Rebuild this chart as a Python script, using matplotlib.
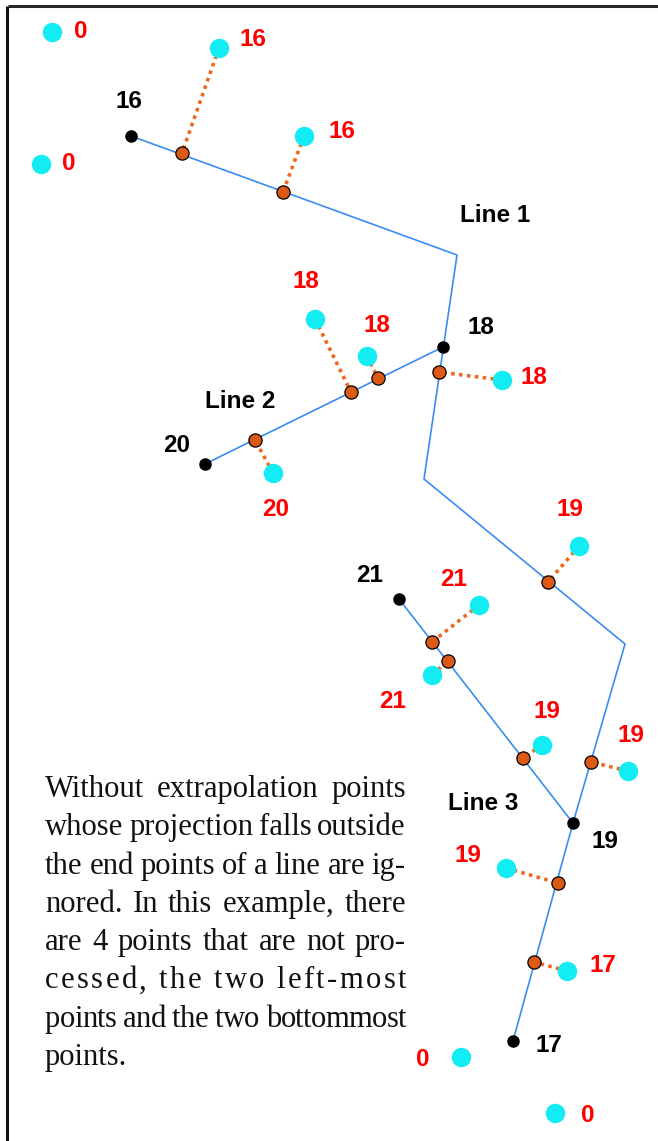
import matplotlib.pyplot as plt
import numpy as np

# polylines (pixel coords, y grows downwards)
line1_x = [131, 457, 424, 625, 573, 513]
line1_y = [136, 255, 479, 644, 823, 1041]
line2_x = [205, 443]
line2_y = [464, 347]
line3_x = [399, 573]
line3_y = [599, 823]

# end points of the lines (black) and their values
node_x = [131, 443, 205, 399, 573, 513]
node_y = [136, 347, 464, 599, 823, 1041]
node_val = ['16', '18', '20', '21', '19', '17']
node_lab_x = [129, 481, 177, 370, 605, 549]
node_lab_y = [102, 327, 445, 576, 841, 1046]

# sample points (cyan), value and projection on the line (nan = not processed)
pt_x = [52, 41, 219, 304, 315, 367, 502, 273, 579, 479, 432, 542, 628, 506, 567, 461, 555]
pt_y = [32, 164, 48, 136, 319, 356, 380, 473, 546, 605, 675, 745, 771, 868, 971, 1057, 1113]
pt_val = ['0', '0', '16', '16', '18', '18', '18', '20', '19', '21', '21', '19', '19', '19', '17', '0', '0']
proj_x = [np.nan, np.nan, 182, 283, 351, 378, 439, 255, 548, 432, 448, 523, 591, 558, 534, np.nan, np.nan]
proj_y = [np.nan, np.nan, 153, 192, 392, 378, 372, 440, 582, 642, 661, 758, 762, 883, 962, np.nan, np.nan]
pt_lab_x = [81, 69, 253, 342, 306, 377, 534, 276, 570, 454, 393, 547, 631, 468, 603, 423, 588]
pt_lab_y = [31, 163, 40, 131, 282, 326, 377, 510, 510, 579, 702, 711, 736, 855, 965, 1059, 1115]

line_names = ['Line 1', 'Line 2', 'Line 3']
line_lab_x = [495, 240, 483]
line_lab_y = [216, 402, 803]

note = ['Without extrapolation points',
        'whose projection falls outside',
        'the end points of a line are ig-',
        'nored.  In this example, there',
        'are 4 points that are not pro-',
        'cessed, the two left-most',
        'points and the two bottommost',
        'points.']

W, H = 658, 1141
fig = plt.figure(figsize=(W/100, H/100), dpi=100)
ax = fig.add_axes([0, 0, 1, 1])
ax.set_xlim(0, W)
ax.set_ylim(H, 0)
ax.axis('off')

# marco
ax.plot([8, W], [6, 6], color='#262626', lw=2.2, solid_capstyle='butt')
ax.plot([7, 7], [6, H], color='#111111', lw=2.2, solid_capstyle='butt')

blue = '#3a8cf2'
for lx, ly in [(line1_x, line1_y), (line2_x, line2_y), (line3_x, line3_y)]:
    ax.plot(lx, ly, color=blue, lw=1.2, zorder=2)

# lineas de proyeccion punteadas
for x0, y0, x1, y1 in zip(pt_x, pt_y, proj_x, proj_y):
    if np.isnan(x1):
        continue
    ax.plot([x0, x1], [y0, y1], color='#ec6a22', lw=2.6,
            linestyle=(0, (1, 1.2)), zorder=3)

ax.plot(proj_x, proj_y, 'o', ms=9.5, mfc='#dd5a16', mec='black', mew=0.9, ls='none', zorder=5)
ax.plot(pt_x, pt_y, 'o', ms=14, mfc='#14ecf4', mec='none', ls='none', zorder=4)
ax.plot(node_x, node_y, 'o', ms=8, color='black', ls='none', zorder=5)

lab_font = dict(family='Liberation Sans', weight='bold', fontsize=17.5,
                ha='center', va='center')
for x, y, s in zip(pt_lab_x, pt_lab_y, pt_val):
    ax.text(x, y, s, color='#ff0000', **lab_font)
for x, y, s in zip(node_lab_x, node_lab_y, node_val):
    ax.text(x, y, s, color='black', **lab_font)
for x, y, s in zip(line_lab_x, line_lab_y, line_names):
    ax.text(x, y, s, color='black', **lab_font)

# parrafo justificado a mano
renderer = fig.canvas.get_renderer()
serif = dict(family='Liberation Serif', fontsize=20, color='#111111', va='baseline', ha='left')
x_left, x_right = 45, 406
y0, dy = 797, 38.3


def ancho(s):
    t = ax.text(0, 0, s, **serif)
    w = t.get_window_extent(renderer).width
    t.remove()
    return w


def letra_por_letra(linea, y):
    # reparte el espacio sobrante (o faltante) entre todas las letras
    chars = list(linea)
    sp = ancho('a a') - ancho('aa')
    ws = [sp if c == ' ' else ancho(c) for c in chars]
    extra = (x_right - x_left - sum(ws)) / (len(chars) - 1)
    x = x_left
    for c, w in zip(chars, ws):
        if c != ' ':
            ax.text(x, y, c, **serif)
        x += w + extra


serif['fontsize'] = 20 * (x_right - x_left) / ancho(note[0]) * 0.97

for i, linea in enumerate(note):
    y = y0 + i * dy
    if i == len(note) - 1:
        ax.text(x_left, y, linea, **serif)
        continue
    if i == 5:
        letra_por_letra(linea, y)
        continue
    palabras = linea.split()
    ws = [ancho(p) for p in palabras]
    gap = (x_right - x_left - sum(ws)) / (len(palabras) - 1)
    if gap < 5:
        letra_por_letra(linea, y)
        continue
    x = x_left
    for p, w in zip(palabras, ws):
        ax.text(x, y, p, **serif)
        x += w + gap

plt.savefig('out.png', dpi=100)
